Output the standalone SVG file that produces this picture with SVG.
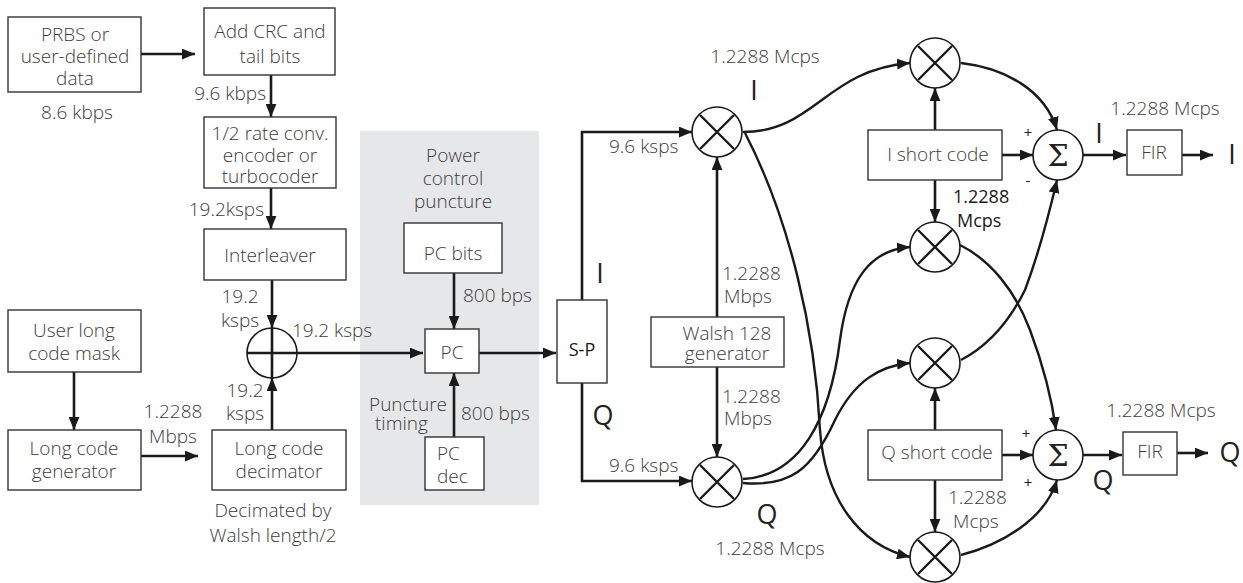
<svg xmlns="http://www.w3.org/2000/svg" width="1243" height="583" viewBox="0 0 1243 583">
<style>
.t{font-family:"Open Sans","Liberation Sans",sans-serif;font-size:19px;font-weight:300;fill:#3c3c3c}
.m{text-anchor:middle}
.e{text-anchor:end}
.big{font-size:27px;font-weight:400;fill:#222}
.dk{fill:#1a1a1a;font-size:18px;font-weight:400}
.sm{font-size:15px;font-weight:400;fill:#222}
.box{fill:#fff;stroke:#333;stroke-width:1.4}
.ln{fill:none;stroke:#1a1a1a;stroke-width:2.6}
.cv{fill:none;stroke:#1a1a1a;stroke-width:2.4}
.c{fill:#fff;stroke:#1a1a1a;stroke-width:1.6}
.x{stroke:#1a1a1a;stroke-width:2.4}
.sig{font-family:"DejaVu Serif","Liberation Serif",serif;font-size:30px;fill:#222}
</style>
<defs>
<marker id="ah" viewBox="0 0 12 10" refX="12" refY="5" markerWidth="13" markerHeight="11" orient="auto" markerUnits="userSpaceOnUse"><path d="M0,0 L12,5 L0,10 z" fill="#1a1a1a"/></marker>
<symbol id="mult" overflow="visible"><circle class="c" cx="0" cy="0" r="25"/><path class="x" d="M-17,-17 L17,17 M17,-17 L-17,17"/></symbol>
</defs>

<rect id="gray" x="360" y="131" width="179" height="374" fill="#e6e7e8"/>

<g id="connectors">
<path class="ln" d="M141,54 H195" marker-end="url(#ah)"/>
<path class="ln" d="M271,75 V117" marker-end="url(#ah)"/>
<path class="ln" d="M271,188 V229" marker-end="url(#ah)"/>
<path class="ln" d="M272,280 V328" marker-end="url(#ah)"/>
<path class="ln" d="M272,430 V378" marker-end="url(#ah)"/>
<path class="ln" d="M74,372 V430" marker-end="url(#ah)"/>
<path class="ln" d="M141,456 H198" marker-end="url(#ah)"/>
<path class="ln" d="M297,353 H423" marker-end="url(#ah)"/>
<path class="ln" d="M454,273 V329" marker-end="url(#ah)"/>
<path class="ln" d="M454,437 V373" marker-end="url(#ah)"/>
<path class="ln" d="M479,353 H556" marker-end="url(#ah)"/>
<path class="ln" d="M582,300 V132 H692" marker-end="url(#ah)"/>
<path class="ln" d="M582,383 V481 H692" marker-end="url(#ah)"/>
<path class="ln" d="M717,317 V157" marker-end="url(#ah)"/>
<path class="ln" d="M717,367 V457" marker-end="url(#ah)"/>
<path class="ln" d="M935,130 V88" marker-end="url(#ah)"/>
<path class="ln" d="M935,180 V222" marker-end="url(#ah)"/>
<path class="ln" d="M935,430 V388" marker-end="url(#ah)"/>
<path class="ln" d="M935,480 V532" marker-end="url(#ah)"/>
<path class="ln" d="M1002,155 H1033" marker-end="url(#ah)"/>
<path class="ln" d="M1002,455 H1033" marker-end="url(#ah)"/>
<path class="ln" d="M1083,155 H1126" marker-end="url(#ah)"/>
<path class="ln" d="M1182,155 H1213" marker-end="url(#ah)"/>
<path class="ln" d="M1083,455 H1122" marker-end="url(#ah)"/>
<path class="ln" d="M1177,453 H1208" marker-end="url(#ah)"/>
<path class="cv" d="M743,132 C815,132 825,70 910,63" marker-end="url(#ah)"/>
<path class="cv" d="M745,133 C790,220 815,330 820,430 C825,500 860,545 910,557" marker-end="url(#ah)"/>
<path class="cv" d="M743,479 C800,476 830,420 840,340 C848,280 870,250 910,247" marker-end="url(#ah)"/>
<path class="cv" d="M743,483 C790,487 812,470 835,420 C855,380 880,366 910,363" marker-end="url(#ah)"/>
<path class="cv" d="M960,245 C990,260 1015,290 1030,330 C1045,370 1052,400 1056,430" marker-end="url(#ah)"/>
<path class="cv" d="M961,360 C990,345 1010,320 1025,290 C1040,250 1050,210 1057,180" marker-end="url(#ah)"/>
<path class="cv" d="M961,63 C1005,68 1045,90 1057,130" marker-end="url(#ah)"/>
<path class="cv" d="M961,555 C1000,545 1045,520 1057,480" marker-end="url(#ah)"/>
</g>

<g id="prbs"><rect class="box" x="8" y="17" width="133" height="75"/>
<text class="t m" x="75" y="41">PRBS or</text><text class="t m" x="75" y="63">user-defined</text><text class="t m" x="75" y="85">data</text></g>
<text class="t m" x="77" y="119">8.6 kbps</text>
<g id="crc"><rect class="box" x="204" y="8" width="131" height="67"/>
<text class="t m" x="270" y="38">Add CRC and</text><text class="t m" x="270" y="63">tail bits</text></g>
<text class="t e" x="266" y="100">9.6 kbps</text>
<g id="encoder"><rect class="box" x="204" y="117" width="132" height="71"/>
<text class="t m" x="270" y="140">1/2 rate conv.</text><text class="t m" x="270" y="162">encoder or</text><text class="t m" x="270" y="183">turbocoder</text></g>
<text class="t e" x="264" y="216">19.2ksps</text>
<g id="interleaver"><rect class="box" x="204" y="229" width="142" height="51"/>
<text class="t m" x="270" y="262">Interleaver</text></g>
<text class="t m" x="240" y="303">19.2</text><text class="t m" x="240" y="327">ksps</text>
<g id="xor"><circle class="c" cx="272" cy="353" r="25"/><path class="ln" d="M272,328 V378 M247,353 H297"/></g>
<text class="t" x="292" y="337">19.2 ksps</text>
<text class="t m" x="245" y="397">19.2</text><text class="t m" x="245" y="420">ksps</text>
<g id="usermask"><rect class="box" x="8" y="310" width="133" height="62"/>
<text class="t m" x="74" y="337">User long</text><text class="t m" x="74" y="360">code mask</text></g>
<g id="lcgen"><rect class="box" x="8" y="430" width="133" height="60"/>
<text class="t m" x="74" y="455">Long code</text><text class="t m" x="74" y="478">generator</text></g>
<text class="t m" x="173" y="418">1.2288</text><text class="t m" x="173" y="443">Mbps</text>
<g id="lcdec"><rect class="box" x="212" y="430" width="134" height="60"/>
<text class="t m" x="279" y="455">Long code</text><text class="t m" x="279" y="478">decimator</text></g>
<text class="t m" x="273" y="517">Decimated by</text><text class="t m" x="273" y="542">Walsh length/2</text>

<text class="t m" x="453" y="162">Power</text><text class="t m" x="453" y="185">control</text><text class="t m" x="453" y="208">puncture</text>
<g id="pcbits"><rect class="box" x="404" y="223" width="98" height="50"/>
<text class="t m" x="453" y="260">PC bits</text></g>
<text class="t" x="463" y="302">800 bps</text>
<g id="pc"><rect class="box" x="425" y="329" width="54" height="44"/>
<text class="t m" x="452" y="359">PC</text></g>
<text class="t e" x="447" y="411">Puncture</text><text class="t" x="375" y="430">timing</text>
<text class="t" x="461" y="420">800 bps</text>
<g id="pcdec"><rect class="box" x="425" y="437" width="59" height="53"/>
<text class="t" x="437" y="460">PC</text><text class="t" x="437" y="483">dec</text></g>

<g id="sp"><rect class="box" x="557" y="300" width="50" height="83"/>
<text class="t m dk" x="582" y="356">S-P</text></g>
<text class="t m big" x="600" y="283">I</text>
<text class="t m big" x="603" y="425">Q</text>
<text class="t" x="609" y="153">9.6 ksps</text>
<text class="t" x="609" y="472">9.6 ksps</text>

<g id="multI"><use href="#mult" x="717" y="132"/></g>
<g id="multQ"><use href="#mult" x="717" y="482"/></g>
<text class="t m" x="765" y="63">1.2288 Mcps</text>
<text class="t m big" x="754" y="100">I</text>
<g id="walsh"><rect class="box" x="651" y="317" width="133" height="50"/>
<text class="t m" x="727" y="340">Walsh 128</text><text class="t m" x="727" y="360">generator</text></g>
<text class="t" x="722" y="280">1.2288</text><text class="t" x="724" y="303">Mbps</text>
<text class="t" x="722" y="403">1.2288</text><text class="t" x="724" y="425">Mbps</text>
<text class="t m big" x="767" y="524">Q</text>
<text class="t m" x="770" y="555">1.2288 Mcps</text>

<g id="mult1"><use href="#mult" x="935" y="63"/></g>
<g id="mult2"><use href="#mult" x="935" y="247"/></g>
<g id="mult3"><use href="#mult" x="935" y="363"/></g>
<g id="mult4"><use href="#mult" x="935" y="557"/></g>
<g id="ishort"><rect class="box" x="868" y="130" width="134" height="50"/>
<text class="t m" x="938" y="161">I short code</text></g>
<g id="qshort"><rect class="box" x="868" y="430" width="134" height="50"/>
<text class="t m" x="937" y="459">Q short code</text></g>
<text class="t dk" x="953" y="203">1.2288</text><text class="t dk" x="957" y="227">Mcps</text>
<text class="t" x="948" y="504">1.2288</text><text class="t" x="953" y="528">Mcps</text>

<g id="sumI"><circle class="c" cx="1058" cy="155" r="25"/><text class="sig m" x="1058" y="166">Σ</text></g>
<g id="sumQ"><circle class="c" cx="1058" cy="455" r="25"/><text class="sig m" x="1058" y="466">Σ</text></g>
<text class="t m sm" x="1028" y="138">+</text><text class="t m sm" x="1028" y="186">-</text>
<text class="t m sm" x="1026" y="439">+</text><text class="t m sm" x="1028" y="488">+</text>
<text class="t m big" x="1099" y="143">I</text>
<text class="t m big" x="1103" y="490">Q</text>
<text class="t m" x="1165" y="115">1.2288 Mcps</text>
<text class="t m" x="1161" y="417">1.2288 Mcps</text>
<g id="firI"><rect class="box" x="1127" y="130" width="55" height="45"/>
<text class="t m" x="1154" y="159">FIR</text></g>
<g id="firQ"><rect class="box" x="1123" y="432" width="54" height="43"/>
<text class="t m" x="1150" y="458">FIR</text></g>
<text class="t m big" x="1232" y="164">I</text>
<text class="t m big" x="1230" y="462">Q</text>
</svg>
